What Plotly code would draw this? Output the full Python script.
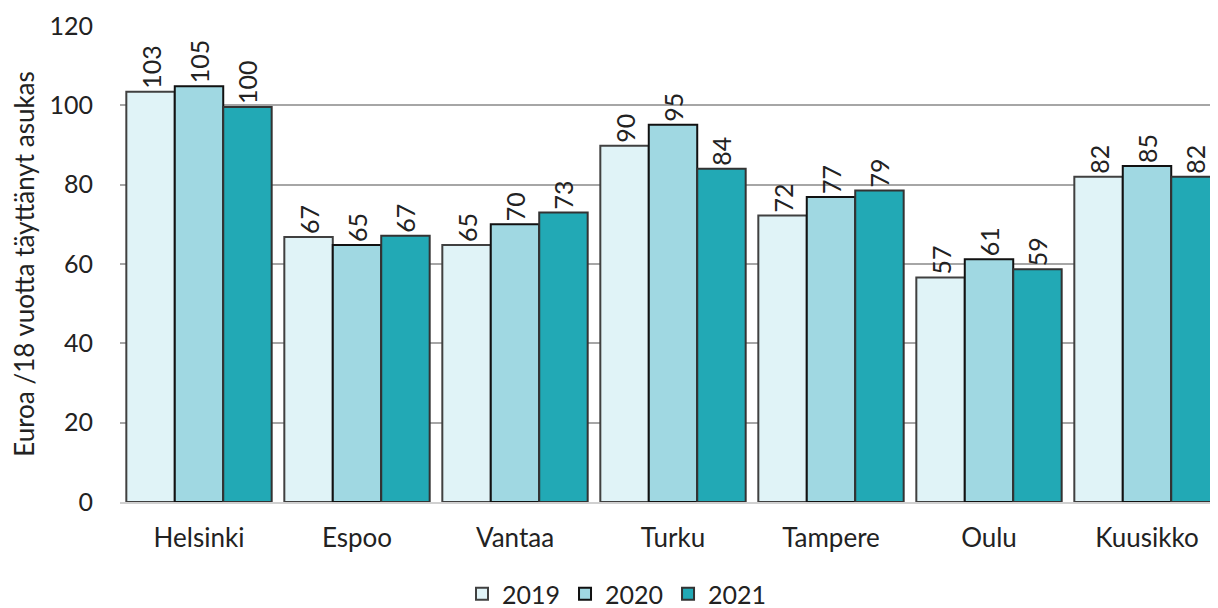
import plotly.graph_objects as go

cities = ["Helsinki", "Espoo", "Vantaa", "Turku", "Tampere", "Oulu", "Kuusikko"]
v2019 = [103.4, 66.8, 64.8, 89.8, 72.2, 56.6, 82.0]
v2020 = [104.8, 64.8, 70.0, 95.1, 76.9, 61.2, 84.7]
v2021 = [99.6, 67.1, 73.0, 84.0, 78.5, 58.7, 82.0]
labels2019 = ["103", "67", "65", "90", "72", "57", "82"]
labels2020 = ["105", "65", "70", "95", "77", "61", "85"]
labels2021 = ["100", "67", "73", "84", "79", "59", "82"]

font = "Lato, 'Open Sans', sans-serif"

fig = go.Figure()

series = [
    ("2019", v2019, labels2019, "#E0F3F7", "#404040"),
    ("2020", v2020, labels2020, "#A0D8E2", "#111111"),
    ("2021", v2021, labels2021, "#22A9B5", "#333333"),
]
for name, vals, labs, color, edge in series:
    fig.add_trace(go.Bar(
        x=cities, y=vals, name=name,
        text=labs, textposition="outside", textangle=-90,
        textfont=dict(size=25, color="#222222", family=font),
        marker=dict(color=color, line=dict(color=edge, width=2)),
        cliponaxis=False,
    ))

# page is drawn with an 8px body offset, so margins are shifted to compensate
fig.update_layout(
    barmode="group",
    bargap=0.08,
    bargroupgap=0,
    width=1218, height=608,
    margin=dict(l=112, r=0, t=18, b=114, autoexpand=False),
    plot_bgcolor="white",
    paper_bgcolor="white",
    font=dict(family=font, size=25, color="#222222"),
    uniformtext=dict(mode=False),
    legend=dict(orientation="h", xref="container", x=0.5, xanchor="center",
                y=-0.145, yanchor="top",
                font=dict(size=25), traceorder="normal", itemwidth=30),
)

fig.update_yaxes(
    range=[0, 120], dtick=20, showgrid=True, gridcolor="#A6A6A6", gridwidth=1.5,
    ticks="", ticklabelstandoff=26, tickfont=dict(size=25),
    title=dict(text="Euroa /18 vuotta täyttänyt asukas", font=dict(size=26), standoff=16),
    zeroline=False, automargin=False,
)
fig.update_xaxes(showline=True, linecolor="#D0D0D0", linewidth=2, ticks="",
                 ticklabelstandoff=12, tickfont=dict(size=26), automargin=False)

fig.write_html("out.html")
